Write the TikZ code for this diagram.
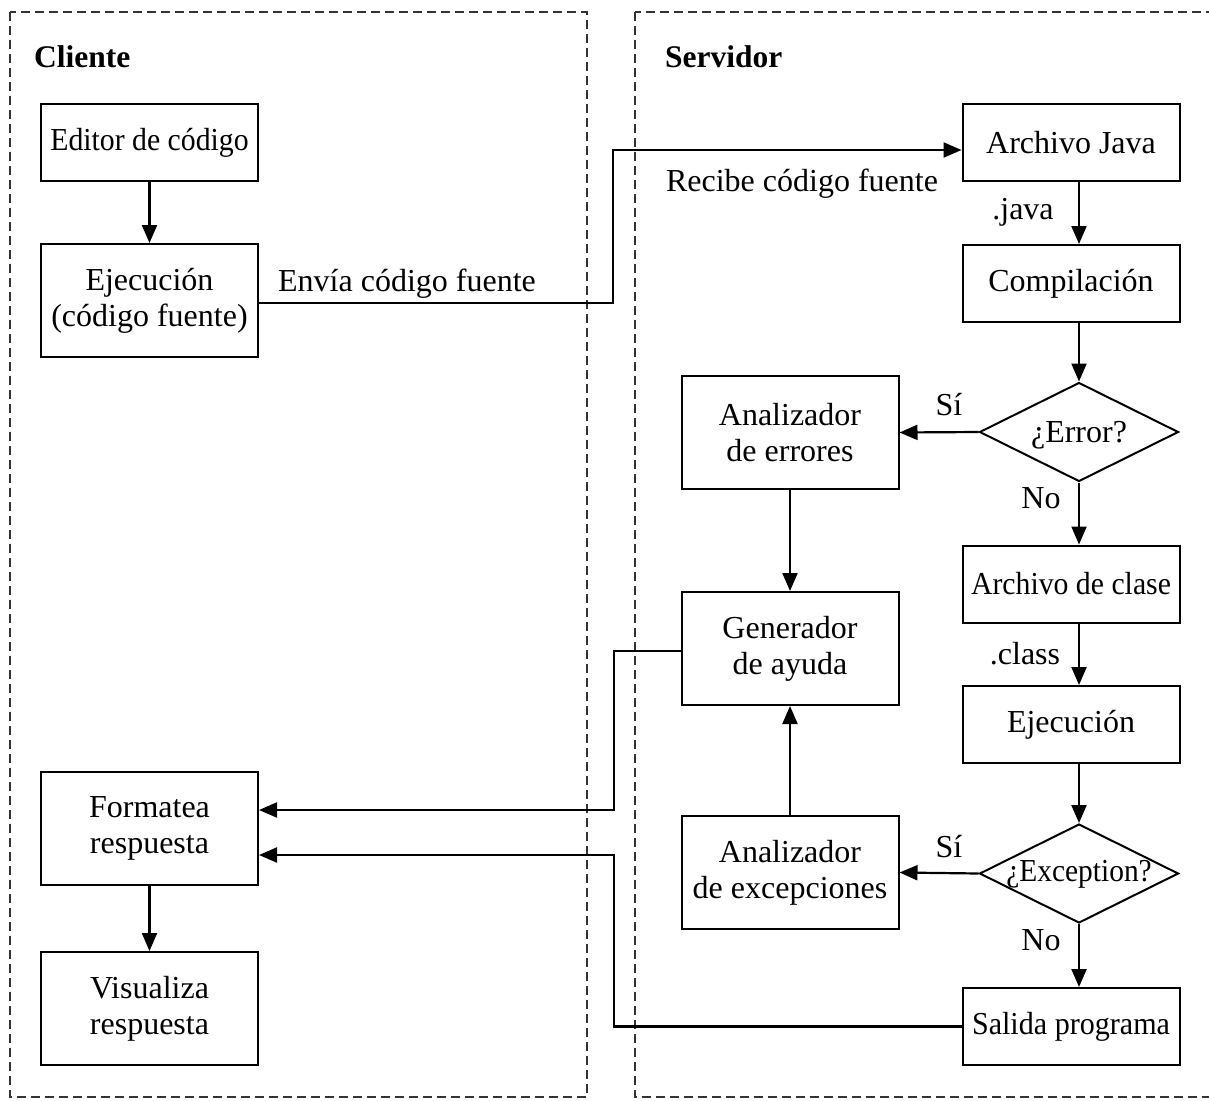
\documentclass[tikz,border=0pt]{standalone}
\usepackage{graphicx}
\usepackage{fontspec}
\setmainfont{Liberation Serif}
\usetikzlibrary{arrows.meta,shapes.geometric,calc}
\newcommand\dfont{\fontsize{32}{36}\selectfont}
\newcommand\efont{\fontsize{32}{36}\selectfont}
\newcommand\hfont{\fontsize{31.5}{36}\selectfont\bfseries}
\newcommand\narrow[2]{\scalebox{#1}[1]{#2}}
\begin{document}
\begin{tikzpicture}[x=1pt,y=-1pt,
  box/.style={draw, line width=2pt, minimum width=217pt, inner sep=0pt, align=center, font=\dfont},
  sbox/.style={box, minimum height=77pt},
  tbox/.style={box, minimum height=113pt},
  dia/.style={draw, diamond, line width=2pt, inner sep=0pt, minimum width=199pt, minimum height=99pt},
  lbl/.style={inner sep=0pt, font=\dfont, align=center},
  elbl/.style={inner sep=0pt, font=\efont, align=center},
  arr/.style={-{Triangle[length=18pt,width=15pt]}, line width=2.2pt},
  dashbox/.style={draw=black!80, line width=1.5pt, dash pattern=on 9pt off 5pt}]
\clip (0,0) rectangle (1209,1100);
\fill[white] (0,0) rectangle (1209,1100);
% swimlanes
\draw[dashbox] (10,12) rectangle (587,1097);
\draw[dashbox] (635,12) rectangle (1240,1097);
\node[font=\hfont, inner sep=0pt, anchor=west] (cli) at (34,57) {Cliente};
\node[font=\hfont, inner sep=0pt, anchor=west] (serv) at (665,57) {Servidor};
% client
\node[sbox] (ed) at (149.5,142.5) {\narrow{0.93}{Editor de código}};
\node[tbox] (ej) at (149.5,300.5) {Ejecución\\(código fuente)};
\node[tbox] (fmt) at (149.5,828.5) {Formatea\\respuesta};
\node[tbox] (vis) at (149.5,1008.5) {Visualiza\\respuesta};
% server
\node[sbox] (aj) at (1071,142.5) {Archivo Java};
\node[sbox] (comp) at (1071,283.5) {Compilación};
\node[dia] (err) at (1079,432) {};
\node[lbl] (errt) at (1079,435) {¿Error?};
\node[sbox] (ac) at (1071,584) {\narrow{0.93}{Archivo de clase}};
\node[sbox] (ejs) at (1071,724.5) {Ejecución};
\node[dia] (exc) at (1079,873.5) {};
\node[lbl] (exct) at (1079,874) {\narrow{0.92}{¿Exception?}};
\node[sbox] (sal) at (1071,1026.5) {\narrow{0.94}{Salida programa}};
\node[tbox] (ae) at (790,432.5) {Analizador\\de errores};
\node[tbox] (gen) at (790,648.5) {Generador\\de ayuda};
\node[tbox] (aex) at (790,872.5) {Analizador\\de excepciones};
% bend points
\coordinate (b1) at (613,150);
\coordinate (b2) at (614,810);
\coordinate (b3) at (614,855);
% connectors
\draw[arr] (ed) -- (ej);
\draw[arr] ([yshift=-2.5pt]ej.east) -| (b1) -- ([yshift=-7.5pt]aj.west);
\node[elbl] (lenv) at (407,284) {Envía código fuente};
\node[elbl] (lrec) at (802,184) {Recibe código fuente};
\draw[arr] ([xshift=8pt]aj.south) -- ([xshift=8pt]comp.north);
\node[elbl] (ljava) at (1023,212) {.java};
\draw[arr] ([xshift=8pt]comp.south) -- (err.north);
\draw[arr] (err.west) -- (ae.east);
\node[elbl] (lsi1) at (949,405) {Sí};
\draw[arr] (err.south) -- ([xshift=8pt]ac.north);
\node[elbl] (lno1) at (1041,498) {No};
\draw[arr] ([xshift=8pt]ac.south) -- ([xshift=8pt]ejs.north);
\node[elbl] (lclass) at (1025,654) {.class};
\draw[arr] ([xshift=8pt]ejs.south) -- (exc.north);
\draw[arr] (exc.west) -- (aex.east);
\node[elbl] (lsi2) at (949,847) {Sí};
\draw[arr] (exc.south) -- ([xshift=8pt]sal.north);
\node[elbl] (lno2) at (1041,940) {No};
\draw[arr] (ae.south) -- (gen.north);
\draw[arr] (aex.north) -- (gen.south);
\draw[arr] ([yshift=-2.5pt]gen.west) -| (b2) -- (fmt.east |- b2);
\draw[arr] (sal.west) -| (b3) -- (fmt.east |- b3);
\draw[arr] (fmt) -- (vis);
\end{tikzpicture}
\end{document}
